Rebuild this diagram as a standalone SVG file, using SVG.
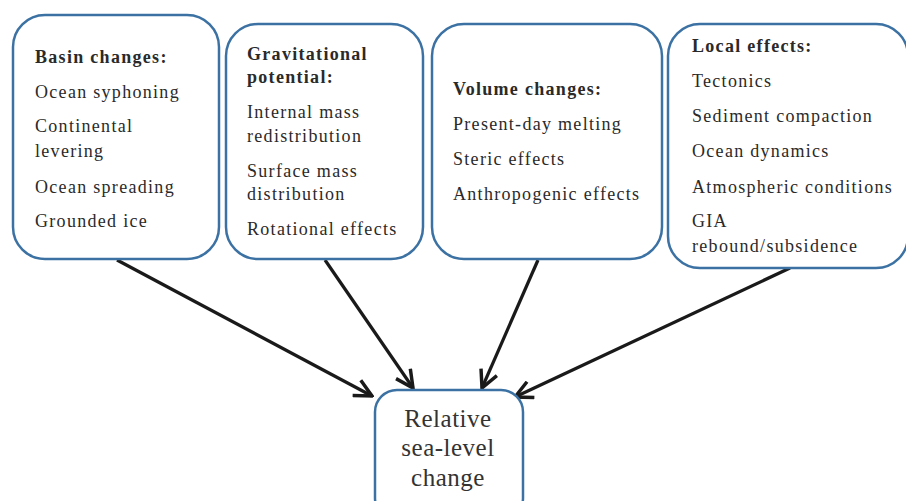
<svg xmlns="http://www.w3.org/2000/svg" width="906" height="501" viewBox="0 0 906 501">
<defs>
<style>
.box{fill:#fff;stroke:#3c72a3;stroke-width:2.5}
.t{font-family:"Liberation Serif","Times New Roman",serif;font-size:18px;fill:#2a2a2a;letter-spacing:1.3px}
.h{font-weight:bold}
.big{font-family:"Liberation Serif","Times New Roman",serif;font-size:25px;fill:#333;text-anchor:middle;letter-spacing:0.5px}
.c{stroke:#1a1a1a;stroke-width:3.2;fill:none;marker-end:url(#ah)}
</style>
<marker id="ah" viewBox="0 0 12 12" refX="11" refY="6" markerWidth="6.5" markerHeight="6.5" orient="auto" markerUnits="strokeWidth">
<path d="M1,1 L11,6 L1,11" fill="none" stroke="#1a1a1a" stroke-width="2"/>
</marker>
</defs>
<rect width="906" height="501" fill="#fff"/>
<g id="connectors">
<line class="c" x1="117" y1="260" x2="372" y2="396"/>
<line class="c" x1="325" y1="260" x2="413" y2="388"/>
<line class="c" x1="538" y1="260" x2="482" y2="388"/>
<line class="c" x1="790" y1="268" x2="515" y2="397"/>
</g>
<g id="basin">
<rect class="box" x="13" y="15" width="206" height="244" rx="32"/>
<text class="t h" x="35" y="63">Basin changes:</text>
<text class="t" x="35" y="98">Ocean syphoning</text>
<text class="t" x="35" y="132">Continental</text>
<text class="t" x="35" y="157">levering</text>
<text class="t" x="35" y="193">Ocean spreading</text>
<text class="t" x="35" y="227">Grounded ice</text>
</g>
<g id="gravitational">
<rect class="box" x="226" y="24" width="197" height="235" rx="32"/>
<text class="t h" x="247" y="60">Gravitational</text>
<text class="t h" x="247" y="83">potential:</text>
<text class="t" x="247" y="118">Internal mass</text>
<text class="t" x="247" y="142">redistribution</text>
<text class="t" x="247" y="177">Surface mass</text>
<text class="t" x="247" y="200">distribution</text>
<text class="t" x="247" y="235">Rotational effects</text>
</g>
<g id="volume">
<rect class="box" x="432" y="24" width="230" height="235" rx="32"/>
<text class="t h" x="453" y="95">Volume changes:</text>
<text class="t" x="453" y="130">Present-day melting</text>
<text class="t" x="453" y="165">Steric effects</text>
<text class="t" x="453" y="200">Anthropogenic effects</text>
</g>
<g id="local">
<rect class="box" x="668" y="24" width="240" height="244" rx="32"/>
<text class="t h" x="692" y="52">Local effects:</text>
<text class="t" x="692" y="87">Tectonics</text>
<text class="t" x="692" y="122">Sediment compaction</text>
<text class="t" x="692" y="157">Ocean dynamics</text>
<text class="t" x="692" y="193">Atmospheric conditions</text>
<text class="t" x="692" y="227">GIA</text>
<text class="t" x="692" y="252">rebound/subsidence</text>
</g>
<g id="relative">
<rect class="box" x="375" y="390" width="148" height="130" rx="22"/>
<text class="big" x="448" y="427">Relative</text>
<text class="big" x="448" y="456">sea-level</text>
<text class="big" x="448" y="486">change</text>
</g>
</svg>
